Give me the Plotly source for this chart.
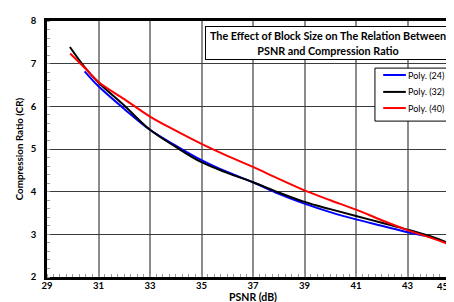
import plotly.graph_objects as go

# ---- data ----
poly24_x = [30.46, 31, 32, 33, 34, 35, 36, 37, 38, 39, 40, 41, 42, 43, 43.9]
poly24_y = [6.82, 6.47, 5.94, 5.45, 5.08, 4.74, 4.46, 4.22, 3.95, 3.72, 3.52, 3.35, 3.20, 3.05, 2.94]

poly32_x = [29.89, 30.46, 31, 32, 33, 34, 35, 36, 37, 38, 39, 40, 41, 42, 43, 44, 45]
poly32_y = [7.39, 6.92, 6.56, 6.02, 5.45, 5.05, 4.69, 4.44, 4.22, 3.98, 3.76, 3.59, 3.43, 3.27, 3.11, 2.93, 2.70]

poly40_x = [29.9, 30.5, 31, 32, 33, 34, 35, 36, 37, 38, 39, 40, 41, 42, 43, 44, 45]
poly40_y = [7.24, 6.88, 6.57, 6.17, 5.76, 5.43, 5.12, 4.84, 4.58, 4.30, 4.03, 3.80, 3.58, 3.33, 3.10, 2.90, 2.68]

series_names = ["Poly. (24)", "Poly. (32)", "Poly. (40)"]
series_colors = ["#0000ff", "#000000", "#ff0000"]

x_ticks = [29, 31, 33, 35, 37, 39, 41, 43, 45]
y_ticks = [2, 3, 4, 5, 6, 7, 8]

title_text = "The Effect of Block Size on The Relation Between<br>PSNR and Compression Ratio"
x_title = "PSNR (dB)"
y_title = "Compression Ratio (CR)"

FONT = "Lato"

fig = go.Figure()
for xs, ys, name, col in zip([poly24_x, poly32_x, poly40_x],
                             [poly24_y, poly32_y, poly40_y],
                             series_names, series_colors):
    fig.add_trace(go.Scatter(x=xs, y=ys, mode="lines", name=name, showlegend=False,
                             line=dict(color=col, width=2, shape="spline", smoothing=1.0)))

# ---- manual legend box (paper coordinates) ----
shapes = [dict(type="rect", xref="paper", yref="paper", x0=0.796, x1=0.983, y0=0.609, y1=0.816,
               line=dict(color="black", width=1), fillcolor="white", layer="above")]
annotations = []
leg_rows = [0.789, 0.723, 0.660]
for name, col, yy in zip(series_names, series_colors, leg_rows):
    shapes.append(dict(type="line", xref="paper", yref="paper", x0=0.816, x1=0.871, y0=yy, y1=yy,
                       line=dict(color=col, width=2), layer="above"))
    annotations.append(dict(text=name, xref="paper", yref="paper", x=0.871, y=yy,
                            xanchor="left", yanchor="middle", showarrow=False,
                            font=dict(family=FONT, size=9)))

annotations.append(dict(text="<b>" + title_text + "</b>", xref="paper", yref="paper",
                        x=0.681, y=0.914, xanchor="center", yanchor="middle",
                        showarrow=False, font=dict(family=FONT, size=10.8),
                        bgcolor="white", bordercolor="black", borderwidth=1,
                        borderpad=2, width=240, height=28))

# last x tick label drawn as annotation so it stays inside the picture
x_ticktext = [str(v) for v in x_ticks]
last_label = x_ticktext[-1]
x_ticktext[-1] = " "
annotations.append(dict(text="<b>" + last_label + "</b>", xref="paper", yref="paper",
                        x=0.975, y=-0.012, xanchor="right", yanchor="top",
                        showarrow=False, borderpad=0,
                        font=dict(family=FONT, size=9.5, color="black")))

fig.update_layout(
    width=454, height=302,
    margin=dict(l=39, r=3, t=13, b=33, autoexpand=False),
    paper_bgcolor="white", plot_bgcolor="white",
    font=dict(family=FONT, color="black"),
    showlegend=False,
    shapes=shapes,
    annotations=annotations,
)

fig.update_xaxes(range=[29, 45], tickvals=x_ticks, ticktext=x_ticktext, automargin=False,
                 showline=True, linecolor="black", linewidth=2.5, mirror=True,
                 showgrid=True, gridcolor="#8c8c8c", gridwidth=1.5,
                 ticks="", zeroline=False, ticklabelstandoff=-2,
                 minor=dict(dtick=0.25, ticks="inside", ticklen=3, tickcolor="#999", showgrid=False),
                 tickfont=dict(family=FONT, size=9.5, weight="bold"),
                 title=dict(text=x_title, font=dict(family=FONT, size=10.5, weight="bold"), standoff=0))
fig.update_yaxes(range=[2, 8], tickvals=y_ticks, ticktext=[str(v) for v in y_ticks], automargin=False,
                 showline=True, linecolor="black", linewidth=2.5, mirror=True,
                 showgrid=True, gridcolor="#3c3c3c", gridwidth=1,
                 ticks="", zeroline=False, ticklabelstandoff=6,
                 minor=dict(dtick=0.2, ticks="inside", ticklen=3, tickcolor="#999", showgrid=False),
                 tickfont=dict(family=FONT, size=9.5, weight="bold"),
                 title=dict(text=y_title, font=dict(family=FONT, size=9.8, weight="bold"), standoff=6))

fig.write_html("out.html")
